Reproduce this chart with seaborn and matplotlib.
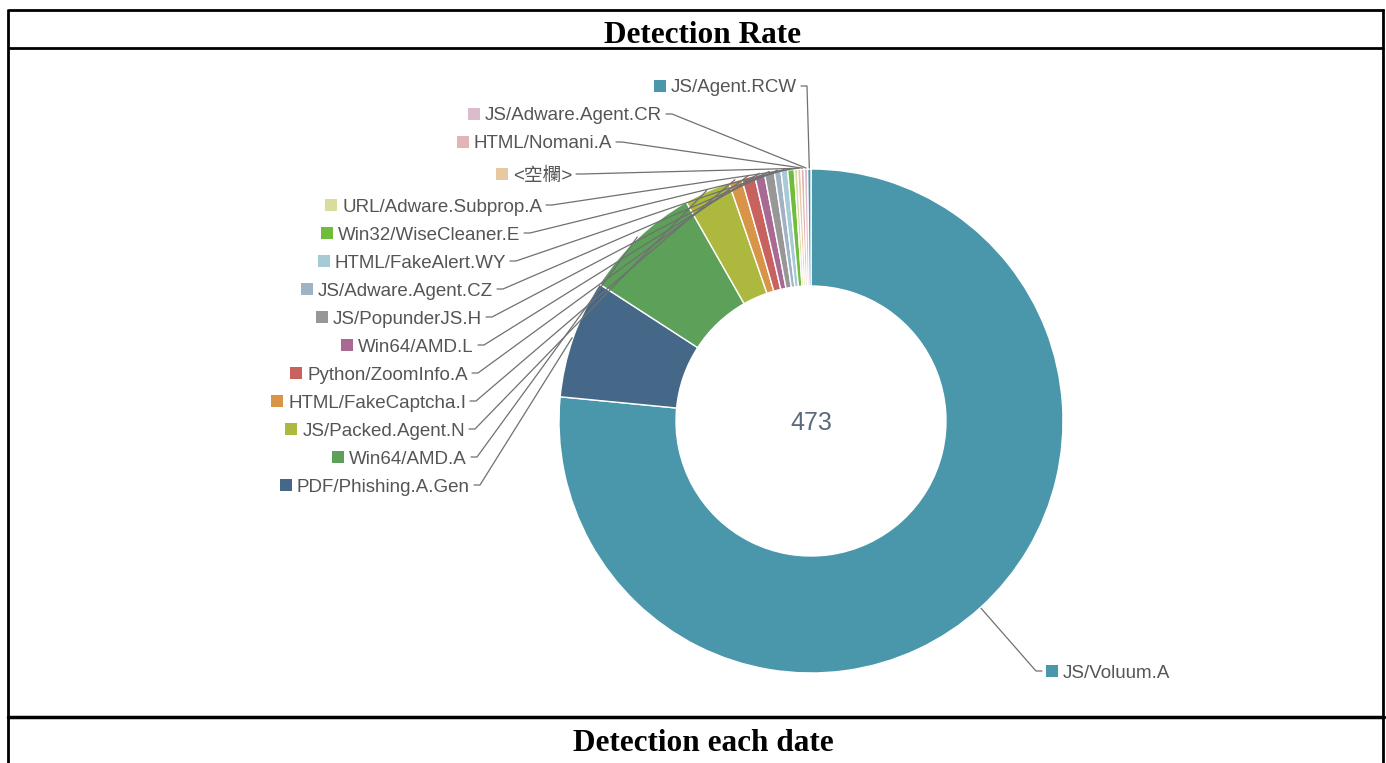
import matplotlib
matplotlib.use("Agg")
import matplotlib.pyplot as plt
import seaborn as sns
import numpy as np
from matplotlib.patches import Rectangle

# detections per signature, slice order clockwise from 12 o'clock
names = ["JS/Voluum.A", "PDF/Phishing.A.Gen", "Win64/AMD.A", "JS/Packed.Agent.N",
         "HTML/FakeCaptcha.I", "Python/ZoomInfo.A", "Win64/AMD.L", "JS/PopunderJS.H",
         "JS/Adware.Agent.CZ", "HTML/FakeAlert.WY", "Win32/WiseCleaner.E",
         "URL/Adware.Subprop.A", "<空欄>", "HTML/Nomani.A", "JS/Adware.Agent.CR",
         "JS/Agent.RCW"]
counts = [362, 36, 36, 14, 4, 4, 3, 3, 2, 2, 2, 1, 1, 1, 1, 1]
slice_colors = ["#4a97ab", "#456888", "#5ca05a", "#adb83f", "#d89548", "#c8625f",
                "#a86a93", "#979797", "#9fb3c5", "#a6cad6", "#6fbd3a", "#d8dc9c",
                "#e8c8a0", "#e4b3b3", "#dbbccd", "#4a97ab"]

# label placement (pixels from top-left): side, text edge x, y
label_side = ["R"] + ["L"] * 15
label_x = [1063, 470, 467, 465, 466, 468, 474, 482, 493, 506, 520, 542, 572, 612, 662, 797]
label_y = [671, 485, 457, 429, 401, 373, 345, 317, 289, 261, 233, 205, 174, 142, 114, 86]

W, H = 1386, 763
CX, CY = 811, H - 421
R_OUT, R_IN = 252, 135

sns.set_theme(style="white")
plt.rcParams["font.family"] = ["Liberation Sans", "Noto Sans CJK TC", "DejaVu Sans"]

fig = plt.figure(figsize=(W / 100, H / 100), dpi=100)
ax = fig.add_axes([0, 0, 1, 1])
pal = sns.color_palette(slice_colors)

wedges, _ = ax.pie(counts, colors=pal, startangle=90, counterclock=False,
                   radius=R_OUT, center=(CX, CY),
                   wedgeprops=dict(width=R_OUT - R_IN, edgecolor="white", linewidth=1.0))
ax.set_aspect("auto")
ax.set_xlim(0, W)
ax.set_ylim(0, H)
ax.axis("off")

ax.text(CX, CY, str(sum(counts)), ha="center", va="center_baseline", fontsize=18,
        color="#5b6a7d")

# frame lines of the surrounding table
frame_kw = dict(color="black", lw=2, solid_capstyle="butt")
ax.plot([8, 1384], [H - 10, H - 10], **frame_kw)
ax.plot([8, 1384], [H - 48, H - 48], **frame_kw)
ax.plot([8, 1384], [H - 717, H - 717], color="black", lw=2.5)
ax.plot([8, 8], [0, H - 9], **frame_kw)
ax.plot([1383, 1383], [0, H - 9], **frame_kw)
title_kw = dict(ha="center", va="baseline", fontsize=22.5, fontweight="bold",
                color="black", family=["Liberation Serif", "DejaVu Serif"])
ax.text(703, H - 43, "Detection Rate", **title_kw)
ax.text(703, H - 751, "Detection each date", **title_kw)

texts = []
for name, side, x, y in zip(names, label_side, label_x, label_y):
    ha = "right" if side == "L" else "left"
    t = ax.text(x, H - y, name, ha=ha, va="center_baseline", fontsize=13.5, color="#555555")
    texts.append(t)

fig.canvas.draw()
renderer = fig.canvas.get_renderer()
inv = ax.transData.inverted()

for t, w, side, col in zip(texts, wedges, label_side, slice_colors):
    bb = t.get_window_extent(renderer)
    (x0, y0), (x1, y1) = inv.transform([[bb.x0, bb.y0], [bb.x1, bb.y1]])
    yc = t.get_position()[1]
    # colour square in front of the text
    ax.add_patch(Rectangle((x0 - 17, yc - 6), 12, 12, color=col, lw=0))
    # leader line to the slice middle
    mid = np.deg2rad((w.theta1 + w.theta2) / 2)
    ex = CX + (R_OUT + 1) * np.cos(mid)
    ey = CY + (R_OUT + 1) * np.sin(mid)
    if side == "L":
        sx = x1 + 4
        pts_x = [sx, sx + 6, ex]
    else:
        sx = x0 - 21
        pts_x = [sx, sx - 6, ex]
    ax.plot(pts_x, [yc, yc, ey], color="#707070", lw=0.9, zorder=3)

fig.savefig("out.png", dpi=100)
